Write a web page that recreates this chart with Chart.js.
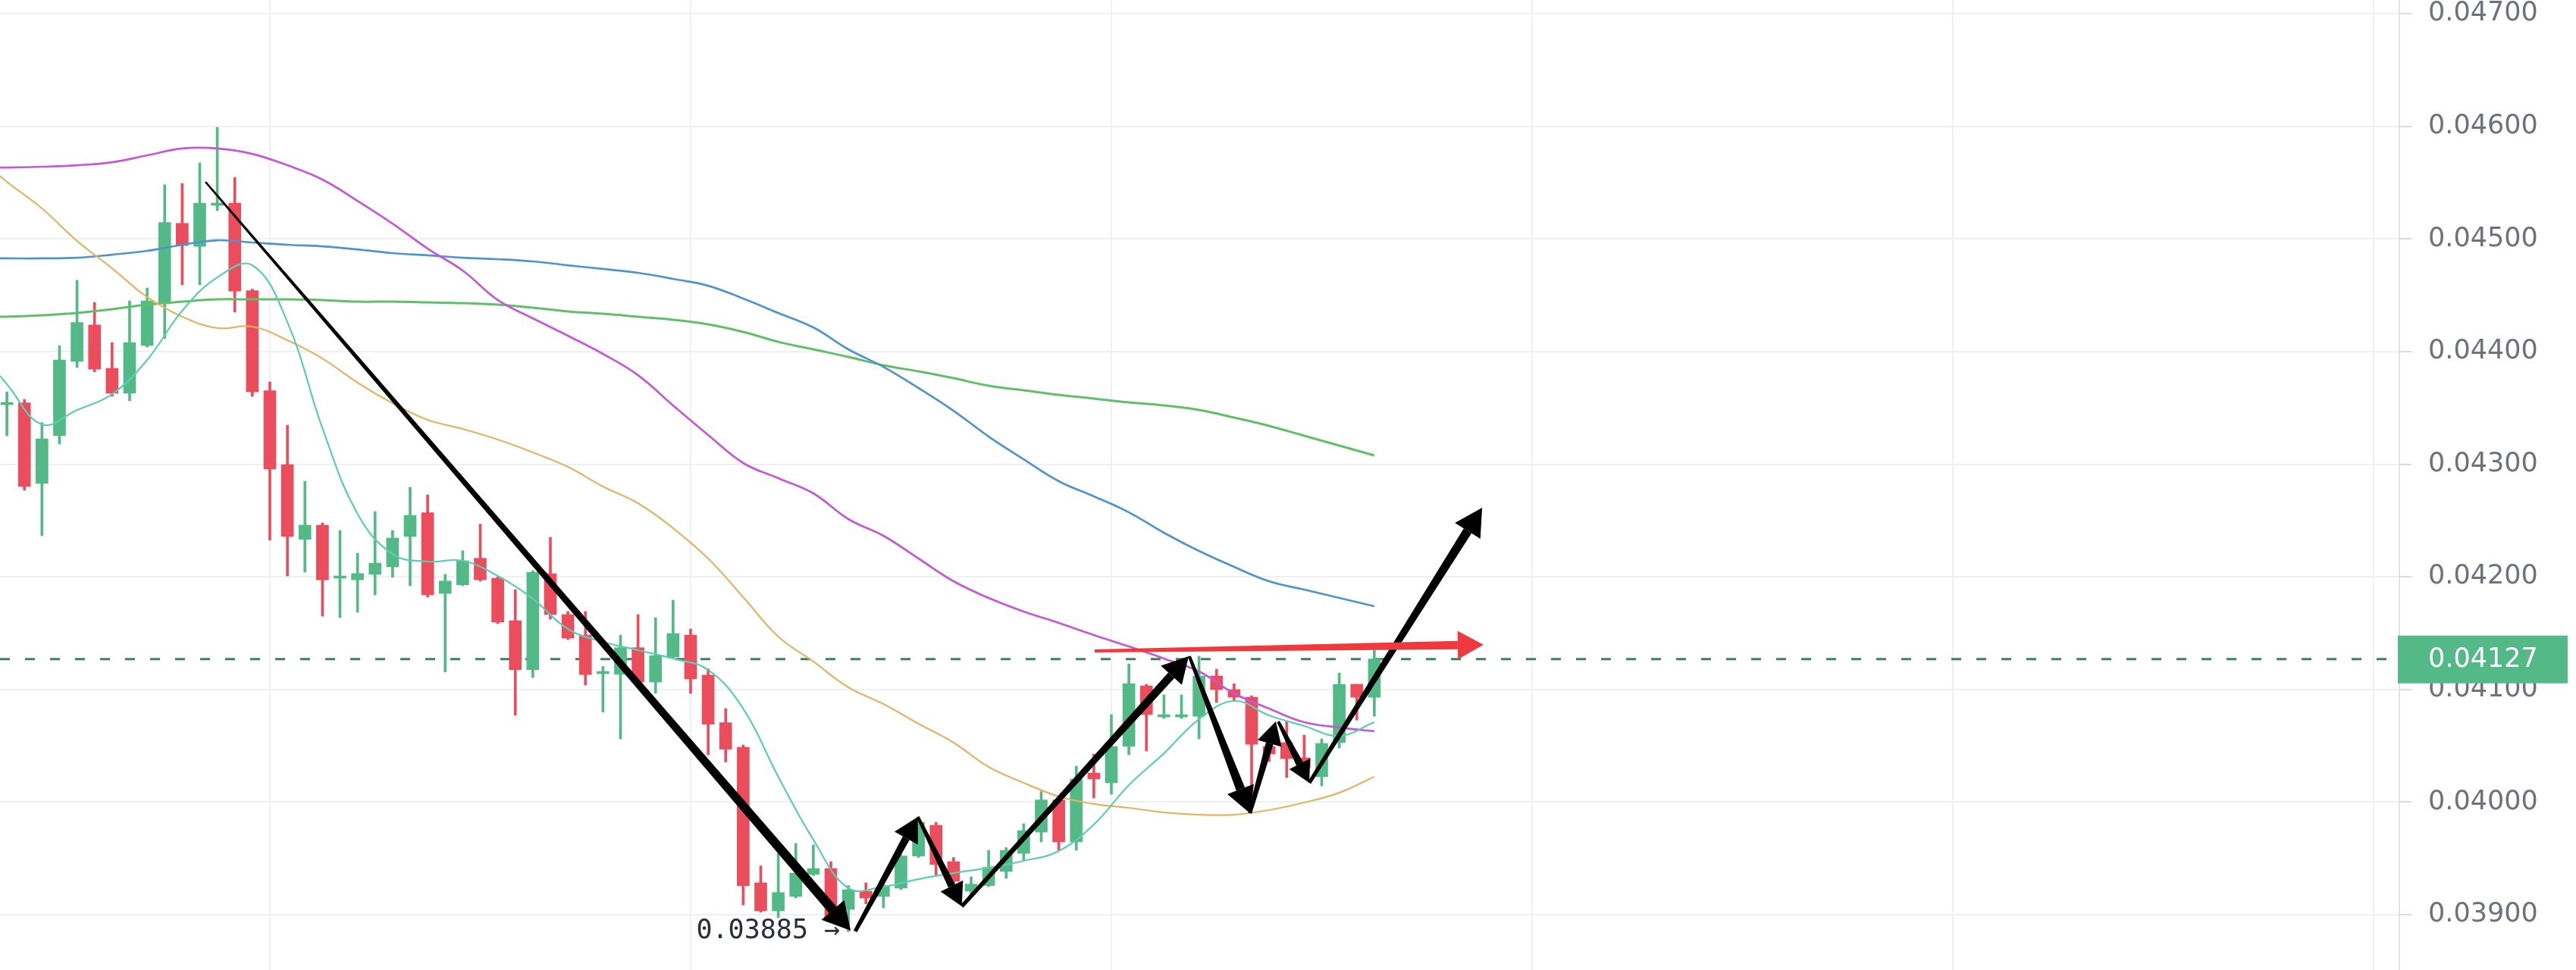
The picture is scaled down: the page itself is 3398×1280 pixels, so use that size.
<!DOCTYPE html>
<html>
<head>
<meta charset="utf-8">
<script src="https://cdn.jsdelivr.net/npm/chart.js@4.4.0/dist/chart.umd.min.js"></script>
<style>
  html, body { margin: 0; padding: 0; background: #fff; overflow: hidden; }
  #chart { display: block; }
</style>
</head>
<body>
<canvas id="chart" width="3398" height="1280"></canvas>
<script>
// candles, one per index 0..78
const opens = [
  0.043529, 0.043546, 0.042829, 0.043253, 0.043913, 0.044236, 0.043852, 0.043630, 0.044054, 0.044437,
  0.045139, 0.044935, 0.045299, 0.045319, 0.044542, 0.043653, 0.042997, 0.042333, 0.042459, 0.041988,
  0.041974, 0.042022, 0.042089, 0.042358, 0.042569, 0.041853, 0.041929, 0.042165, 0.041988, 0.041611,
  0.041176, 0.042028, 0.041665, 0.041483, 0.041140, 0.041135, 0.041371, 0.041066, 0.041288, 0.041483,
  0.041127, 0.040705, 0.040487, 0.039283, 0.039034, 0.039162, 0.039359, 0.039410, 0.039047, 0.039209,
  0.039162, 0.039236, 0.039521, 0.039794, 0.039471, 0.039209, 0.039259, 0.039384, 0.039545, 0.039734,
  0.040019, 0.039646, 0.040258, 0.040171, 0.040494, 0.041032, 0.040756, 0.040756, 0.040763, 0.041120,
  0.040999, 0.040931, 0.040494, 0.040528, 0.040393, 0.040225, 0.040528, 0.041046, 0.040931
];
const highs = [
  0.043643, 0.043576, 0.043370, 0.044054, 0.044633, 0.044437, 0.044081, 0.044451, 0.044565, 0.045481,
  0.045494, 0.045676, 0.045992, 0.045548, 0.044555, 0.043731, 0.043347, 0.042849, 0.042479, 0.042412,
  0.042210, 0.042580, 0.042412, 0.042795, 0.042728, 0.042022, 0.042232, 0.042468, 0.042001, 0.041887,
  0.042055, 0.042351, 0.041692, 0.041692, 0.041204, 0.041483, 0.041665, 0.041638, 0.041793, 0.041537,
  0.041184, 0.040830, 0.040507, 0.039433, 0.039545, 0.039633, 0.039619, 0.039471, 0.039259, 0.039283,
  0.039336, 0.039533, 0.039869, 0.039821, 0.039508, 0.039336, 0.039572, 0.039596, 0.039808, 0.040094,
  0.040032, 0.040319, 0.040427, 0.040777, 0.041227, 0.041046, 0.040952, 0.040952, 0.041295, 0.041180,
  0.041052, 0.040945, 0.040561, 0.040716, 0.040595, 0.040561, 0.041147, 0.041046, 0.041349
];
const lows = [
  0.043253, 0.042769, 0.042365, 0.043179, 0.043859, 0.043821, 0.043603, 0.043563, 0.044040, 0.044117,
  0.044592, 0.044592, 0.045252, 0.044350, 0.043603, 0.042327, 0.042008, 0.042042, 0.041651, 0.041638,
  0.041685, 0.041840, 0.041997, 0.041921, 0.041820, 0.041155, 0.041921, 0.041961, 0.041584, 0.040770,
  0.041106, 0.041625, 0.041443, 0.041039, 0.040799, 0.040561, 0.041052, 0.040967, 0.041275, 0.040965,
  0.040420, 0.040356, 0.039087, 0.039022, 0.038973, 0.039148, 0.039347, 0.038946, 0.038850, 0.039097,
  0.039061, 0.039222, 0.039508, 0.039347, 0.039259, 0.039172, 0.039249, 0.039323, 0.039485, 0.039646,
  0.039572, 0.039572, 0.040036, 0.040070, 0.040420, 0.040454, 0.040743, 0.040743, 0.040561, 0.040884,
  0.040898, 0.039956, 0.040359, 0.040218, 0.040218, 0.040144, 0.040480, 0.040729, 0.040763
];
const closes = [
  0.043542, 0.042802, 0.043226, 0.043926, 0.044259, 0.043845, 0.043630, 0.044081, 0.044451, 0.045147,
  0.044942, 0.045319, 0.045319, 0.044538, 0.043643, 0.042957, 0.042358, 0.042459, 0.041974, 0.042001,
  0.042030, 0.042122, 0.042345, 0.042546, 0.041840, 0.041963, 0.042143, 0.041974, 0.041598, 0.041176,
  0.042042, 0.041665, 0.041456, 0.041133, 0.041148, 0.041371, 0.041066, 0.041301, 0.041497, 0.041093,
  0.040692, 0.040470, 0.039259, 0.039034, 0.039197, 0.039370, 0.039410, 0.038960, 0.039222, 0.039148,
  0.039259, 0.039521, 0.039821, 0.039446, 0.039296, 0.039271, 0.039421, 0.039572, 0.039747, 0.040019,
  0.039646, 0.040205, 0.040205, 0.040494, 0.041052, 0.040777, 0.040770, 0.040770, 0.041120, 0.040999,
  0.040931, 0.040514, 0.040427, 0.040386, 0.040306, 0.040521, 0.041046, 0.040931, 0.04127
];

// moving averages, read at these candle positions
const maIdx = [-0.4, 0, 2, 4, 6, 8, 10, 12, 14, 16, 18, 20, 22, 24, 26, 28, 30, 32, 34, 36, 38,
  40, 42, 44, 46, 48, 50, 52, 54, 56, 58, 60, 62, 64, 66, 68, 70, 72, 74, 76, 78];
const maFast = [0.043785, 0.043711, 0.043354, 0.043482, 0.043623, 0.043926, 0.044363, 0.044659, 0.044767, 0.044262,
  0.043320, 0.042560, 0.042203, 0.042136, 0.042143, 0.042008, 0.041806, 0.041537, 0.041423, 0.041349,
  0.041275, 0.041174, 0.040830, 0.040225, 0.039666, 0.039236, 0.039249, 0.039316, 0.039370, 0.039417,
  0.039478, 0.039565, 0.039801, 0.040151, 0.040433, 0.040736, 0.040898, 0.040770, 0.040676, 0.040588, 0.040709];
const maOrange = [0.045561, 0.045507, 0.045272, 0.044983, 0.044740, 0.044485, 0.044310, 0.044209, 0.044222, 0.044101,
  0.043939, 0.043724, 0.043542, 0.043394, 0.043314, 0.043219, 0.043105, 0.042977, 0.042802, 0.042654,
  0.042432, 0.042163, 0.041820, 0.041470, 0.041248, 0.041019, 0.040871, 0.040696, 0.040528, 0.040312,
  0.040171, 0.040050, 0.039983, 0.039949, 0.039908, 0.039888, 0.039888, 0.039929, 0.039996, 0.040083, 0.040225];
const maPurple = [0.045635, 0.045635, 0.045642, 0.045655, 0.045682, 0.045743, 0.045804, 0.045804, 0.045756, 0.045655,
  0.045528, 0.045339, 0.045137, 0.044915, 0.044720, 0.044458, 0.044296, 0.044141, 0.043980, 0.043791,
  0.043522, 0.043260, 0.043011, 0.042876, 0.042742, 0.042513, 0.042365, 0.042163, 0.041961, 0.041813,
  0.041692, 0.041591, 0.041483, 0.041382, 0.041275, 0.041160, 0.040965, 0.040830, 0.040709, 0.040662, 0.040629];
const maBlue = [0.044828, 0.044828, 0.044828, 0.044834, 0.044861, 0.044895, 0.044949, 0.044989, 0.044969, 0.044949,
  0.044935, 0.044908, 0.044875, 0.044855, 0.044834, 0.044821, 0.044801, 0.044767, 0.044734, 0.044700,
  0.044646, 0.044585, 0.044471, 0.044343, 0.044215, 0.044020, 0.043865, 0.043677, 0.043475, 0.043246,
  0.043044, 0.042849, 0.042715, 0.042573, 0.042392, 0.042230, 0.042089, 0.041961, 0.041887, 0.041813, 0.041739];
const maGreen = [0.044310, 0.044310, 0.044323, 0.044343, 0.044377, 0.044417, 0.044444, 0.044464, 0.044464, 0.044464,
  0.044458, 0.044444, 0.044444, 0.044437, 0.044431, 0.044417, 0.044390, 0.044357, 0.044336, 0.044310,
  0.044283, 0.044242, 0.044175, 0.044087, 0.044020, 0.043953, 0.043879, 0.043825, 0.043764, 0.043697,
  0.043657, 0.043616, 0.043583, 0.043549, 0.043522, 0.043482, 0.043415, 0.043341, 0.043253, 0.043166, 0.043078];

const yTicks = [0.039, 0.040, 0.041, 0.042, 0.043, 0.044, 0.045, 0.046, 0.047];
const timeGrid = [15, 39, 63, 87, 111, 135];
const lastPrice = 0.04127;
const lowPrice = 0.03885;
const lowIndex = 48;

// drawn arrows, [candle index, price]
const trendFrom = [[11.33, 0.045507], [48.39, 0.038852], [51.96, 0.039869], [54.47, 0.039074],
  [67.45, 0.041295], [70.9, 0.039902], [72.52, 0.040716], [74.29, 0.040171]];
const trendTo = [[48.13, 0.038859], [51.96, 0.039869], [54.47, 0.039074], [67.41, 0.041295],
  [70.9, 0.039902], [72.38, 0.040716], [74.29, 0.040171], [84.15, 0.042614]];
const levelFrom = [62.05, 0.041342];
const levelTo = [84.23, 0.041398];

const upColor = '#53b987';
const downColor = '#eb4d5c';
const candleColors = closes.map((c, i) => (c >= opens[i] ? upColor : downColor));
const wickData = lows.map((l, i) => ({ x: i, y: [l, highs[i]] }));
const bodyData = opens.map((o, i) => ({ x: i, y: [o, closes[i]] }));
const maData = (vals) => vals.map((v, k) => ({ x: maIdx[k], y: v }));

function lineSet(label, vals, color, width) {
  return {
    type: 'line', label: label, data: maData(vals),
    borderColor: color, borderWidth: width, pointRadius: 0,
    tension: 0.4, fill: false, order: 0
  };
}

// tapered stroke with a filled head, the way the brush arrows look
function taperArrow(ctx, x0, y0, x1, y1, w0, w1, head, color) {
  const dx = x1 - x0, dy = y1 - y0, len = Math.hypot(dx, dy);
  const ux = dx / len, uy = dy / len, nx = -uy, ny = ux;
  const bx = x1 - ux * head, by = y1 - uy * head;
  ctx.fillStyle = color;
  ctx.beginPath();
  ctx.moveTo(x0 + nx * w0 / 2, y0 + ny * w0 / 2);
  ctx.lineTo(bx + nx * w1 / 2, by + ny * w1 / 2);
  ctx.lineTo(bx - nx * w1 / 2, by - ny * w1 / 2);
  ctx.lineTo(x0 - nx * w0 / 2, y0 - ny * w0 / 2);
  ctx.closePath();
  ctx.fill();
  const hw = head * 0.55;
  ctx.beginPath();
  ctx.moveTo(x1, y1);
  ctx.lineTo(bx + nx * hw, by + ny * hw);
  ctx.lineTo(bx - nx * hw, by - ny * hw);
  ctx.closePath();
  ctx.fill();
}

const trendWidths = [[2.5, 13], [5, 10], [4, 10], [5, 11], [4, 12], [5, 10], [4, 10], [5, 12]];
const trendHeads = [36, 32, 30, 34, 34, 30, 28, 36];

const overlay = {
  id: 'overlay',
  beforeDatasetsDraw(chart) {
    const { ctx, chartArea, scales } = chart;
    const py = scales.y.getPixelForValue(lastPrice);
    ctx.save();
    ctx.strokeStyle = '#3f7d65';
    ctx.lineWidth = 3;
    ctx.setLineDash([13, 20]);
    ctx.beginPath();
    ctx.moveTo(chartArea.left, py);
    ctx.lineTo(chartArea.right, py);
    ctx.stroke();
    ctx.restore();
  },
  afterDatasetsDraw(chart) {
    const { ctx, scales: { x, y } } = chart;
    ctx.save();
    trendFrom.forEach((p, k) => {
      const q = trendTo[k];
      taperArrow(ctx, x.getPixelForValue(p[0]), y.getPixelForValue(p[1]),
        x.getPixelForValue(q[0]), y.getPixelForValue(q[1]),
        trendWidths[k][0], trendWidths[k][1], trendHeads[k], '#000');
    });
    taperArrow(ctx, x.getPixelForValue(levelFrom[0]), y.getPixelForValue(levelFrom[1]),
      x.getPixelForValue(levelTo[0]), y.getPixelForValue(levelTo[1]), 4, 11, 34, '#f0393c');

    ctx.font = '35px "DejaVu Sans Mono"';
    ctx.fillStyle = '#2a2e39';
    ctx.textAlign = 'right';
    ctx.textBaseline = 'middle';
    ctx.fillText(lowPrice.toFixed(5) + ' \u2192', x.getPixelForValue(lowIndex) - 11, y.getPixelForValue(lowPrice));
    ctx.restore();
  },
  afterDraw(chart) {
    const { ctx, scales: { y } } = chart;
    const py = y.getPixelForValue(lastPrice);
    ctx.save();
    ctx.fillStyle = upColor;
    ctx.fillRect(y.left - 2, py - 31, 224, 63);
    ctx.fillStyle = '#fff';
    ctx.font = '35px "DejaVu Sans"';
    ctx.textAlign = 'left';
    ctx.textBaseline = 'middle';
    ctx.fillText(lastPrice.toFixed(5), y.left + 38, py + 1);
    ctx.restore();
  }
};

new Chart(document.getElementById('chart'), {
  type: 'bar',
  data: {
    datasets: [
      lineSet('MA 9', maFast, '#5ccdb4', 2.2),
      lineSet('MA 50', maOrange, '#e2b463', 2.2),
      lineSet('MA 100', maPurple, '#c657d6', 2.7),
      lineSet('MA 150', maBlue, '#4f94cb', 2.7),
      lineSet('MA 200', maGreen, '#62bf69', 3),
      {
        label: 'wick', data: wickData, backgroundColor: candleColors,
        grouped: false, categoryPercentage: 1, barPercentage: 1, maxBarThickness: 3, order: 3
      },
      {
        label: 'body', data: bodyData, backgroundColor: candleColors,
        grouped: false, categoryPercentage: 1, barPercentage: 1, maxBarThickness: 16,
        minBarLength: 3, order: 2
      }
    ]
  },
  options: {
    responsive: false,
    animation: false,
    devicePixelRatio: 1,
    layout: { padding: 0 },
    plugins: { legend: { display: false }, tooltip: { enabled: false } },
    scales: {
      x: {
        type: 'linear', min: -0.3935, max: 136.47, offset: false,
        grid: { color: '#eef0f4', lineWidth: 2, drawTicks: false, offset: false },
        border: { display: false },
        ticks: { display: false },
        afterBuildTicks: (s) => { s.ticks = timeGrid.map((v) => ({ value: v })); }
      },
      y: {
        type: 'linear', position: 'right', min: 0.038509, max: 0.0471225, beginAtZero: false,
        grid: { color: '#eef0f4', lineWidth: 2, tickLength: 16, tickColor: '#d8dbe2' },
        border: { display: true, color: '#dfe2e8', width: 2 },
        ticks: {
          autoSkip: false, padding: 22, color: '#6f727d',
          font: { family: 'DejaVu Sans', size: 35 },
          callback: (v) => v.toFixed(5)
        },
        afterBuildTicks: (s) => { s.ticks = yTicks.map((v) => ({ value: v })); },
        afterFit: (s) => { s.width = 233; s.paddingTop = 0; s.paddingBottom = 0; }
      }
    }
  },
  plugins: [overlay]
});
</script>
</body>
</html>
